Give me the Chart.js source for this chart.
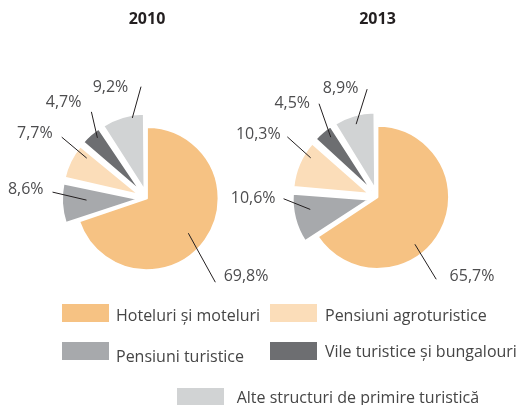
<!DOCTYPE html>
<html>
<head>
<meta charset="utf-8">
<script src="https://cdn.jsdelivr.net/npm/chart.js@4.4.1/dist/chart.umd.min.js"></script>
<style>
  html, body { margin: 0; padding: 0; background: #fff; }
  body { width: 519px; height: 405px; overflow: hidden; position: relative; font-family: 'Open Sans', sans-serif; }
  canvas { position: absolute; top: 0; }
  .swatch { position: absolute; width: 46.7px; height: 18px; }
  .ltext { position: absolute; font-size: 16px; line-height: 16px; color: #454545; white-space: nowrap; }
</style>
</head>
<body>
<canvas id="pie2010" width="294" height="400" style="left:0px"></canvas>
<canvas id="pie2013" width="295" height="400" style="left:230px"></canvas>
<div id="legend"></div>
<script>
// Accommodation capacity by type of establishment (%)
const categories = [
  'Hoteluri și moteluri',
  'Pensiuni turistice',
  'Pensiuni agroturistice',
  'Vile turistice și bungalouri',
  'Alte structuri de primire turistică'
];
const years = ['2010', '2013'];
const values2010 = [69.8, 8.6, 7.7, 4.7, 9.2];
const values2013 = [65.7, 10.6, 10.3, 4.5, 8.9];
const colors = ['#F6C283', '#A7A9AC', '#FBDDB9', '#6D6E71', '#D1D3D4'];

const FONT = "'Open Sans', sans-serif";
const RADIUS = 71.5;         // main slice radius
const SMALL_RADIUS = 76;     // radius of the pulled-out slices
const EXPLODE = 36;          // arc offset option (drawn shift is offset / 4)

// Leader line placement for each slice: start point (angle shift in degrees
// from the slice middle, fraction of radius), line vector, text offset.
const labelLayout2010 = [
  { da: 4.4, rf: 0.755, dx: 27,   dy: 49,    align: 'left',  tx: 8.3,   ty: -5.5 },
  { da: 2.0, rf: 0.72,  dx: -34,  dy: -8,    align: 'right', tx: -9,    ty: -3 },
  { da: 8.8, rf: 0.89,  dx: -25,  dy: -21,   align: 'right', tx: -9,    ty: -3.5 },
  { da: 2.6, rf: 0.97,  dx: -6,   dy: -26,   align: 'right', tx: -10,   ty: -9 },
  { da: 7.0, rf: 1.02,  dx: 8.7,  dy: -31.3, align: 'right', tx: -12.7, ty: 0.5 }
];
const labelLayout2013 = [
  { da: 23.2, rf: 0.84,  dx: 21.3,  dy: 35,    align: 'left',  tx: 13.4, ty: -2.5 },
  { da: 4.8,  rf: 0.83,  dx: -26.7, dy: -10.7, align: 'right', tx: -8,   ty: 0.2 },
  { da: 8.3,  rf: 0.96,  dx: -23.4, dy: -21,   align: 'right', tx: -6.6, ty: -2.8 },
  { da: 2.6,  rf: 0.94,  dx: -11.7, dy: -33.4, align: 'right', tx: -9,   ty: -0.3 },
  { da: -0.3, rf: 0.94,  dx: 11,    dy: -35,   align: 'right', tx: -8.7, ty: -0.8 }
];

// Pulled-out slices get a fixed radius instead of the automatic growth.
const explodedRadius = {
  id: 'explodedRadius',
  afterDatasetUpdate(chart, args) {
    args.meta.data.forEach(arc => {
      const off = (arc.options.offset || 0) / 4;
      if (!off) return;
      const fix = 1 - Math.sin(Math.min(Math.PI, arc.circumference || 0));
      arc.outerRadius = SMALL_RADIUS - off * fix;
    });
  }
};

// Percentage labels with leader lines.
const pieLabels = {
  id: 'pieLabels',
  afterDatasetsDraw(chart, args, opts) {
    const ctx = chart.ctx;
    const meta = chart.getDatasetMeta(0);
    const values = chart.data.datasets[0].data;
    ctx.save();
    ctx.font = '16px ' + FONT;
    ctx.textBaseline = 'middle';
    ctx.strokeStyle = '#231F20';
    ctx.lineWidth = 1;
    ctx.fillStyle = '#4D4D4F';
    meta.data.forEach((arc, i) => {
      const L = opts.layout[i];
      const mid = (arc.startAngle + arc.endAngle) / 2;
      const off = (arc.options.offset || 0) / 4;
      const cx = arc.x + Math.cos(mid) * off;
      const cy = arc.y + Math.sin(mid) * off;
      const a = mid + L.da * Math.PI / 180;
      const r = RADIUS * L.rf;
      const x0 = cx + Math.cos(a) * r, y0 = cy + Math.sin(a) * r;
      const x1 = x0 + L.dx, y1 = y0 + L.dy;
      ctx.beginPath();
      ctx.moveTo(x0, y0);
      ctx.lineTo(x1, y1);
      ctx.stroke();
      ctx.textAlign = L.align;
      ctx.fillText(values[i].toFixed(1).replace('.', ',') + '%', x1 + L.tx, y1 + L.ty);
    });
    ctx.restore();
  }
};

function makePie(id, year, values, centerY, layout) {
  const canvas = document.getElementById(id);
  const titleTop = 9.6, titleLine = 16 * 1.2;
  const padBottom = canvas.height + titleTop + titleLine - 2 * centerY;
  return new Chart(canvas, {
    type: 'pie',
    data: {
      labels: categories,
      datasets: [{
        data: values,
        backgroundColor: colors,
        borderColor: '#ffffff',
        borderWidth: 1.8,
        offset: values.map((v, i) => (i === 0 ? 0 : EXPLODE)),
        radius: RADIUS
      }]
    },
    options: {
      responsive: false,
      animation: false,
      events: [],
      layout: { padding: { top: 0, left: 0, right: 0, bottom: padBottom } },
      plugins: {
        legend: { display: false },
        tooltip: { enabled: false },
        title: {
          display: true,
          text: year,
          color: '#231F20',
          font: { family: FONT, size: 16, weight: 'bold' },
          padding: { top: titleTop, bottom: 0 }
        },
        pieLabels: { layout: layout }
      }
    },
    plugins: [explodedRadius, pieLabels]
  });
}

makePie('pie2010', years[0], values2010, 198.5, labelLayout2010);
makePie('pie2013', years[1], values2013, 197.3, labelLayout2013);

// Legend: swatch position and text baseline for each category
const legendSlots = [
  { bx: 62.3,  by: 303.5, tx: 116,   base: 321 },
  { bx: 62.3,  by: 341.7, tx: 116,   base: 361.7 },
  { bx: 270,   by: 303.5, tx: 325,   base: 321 },
  { bx: 270,   by: 341.7, tx: 325,   base: 357.3 },
  { bx: 177.3, by: 387.7, tx: 236.7, base: 403 }
];
const legend = document.getElementById('legend');
categories.forEach((name, i) => {
  const s = legendSlots[i];
  const sw = document.createElement('div');
  sw.className = 'swatch';
  sw.style.left = s.bx + 'px';
  sw.style.top = s.by + 'px';
  sw.style.background = colors[i];
  legend.appendChild(sw);
  const t = document.createElement('div');
  t.className = 'ltext';
  t.style.left = s.tx + 'px';
  t.style.top = (s.base - 14.2) + 'px';
  t.textContent = name;
  legend.appendChild(t);
});
</script>
</body>
</html>
